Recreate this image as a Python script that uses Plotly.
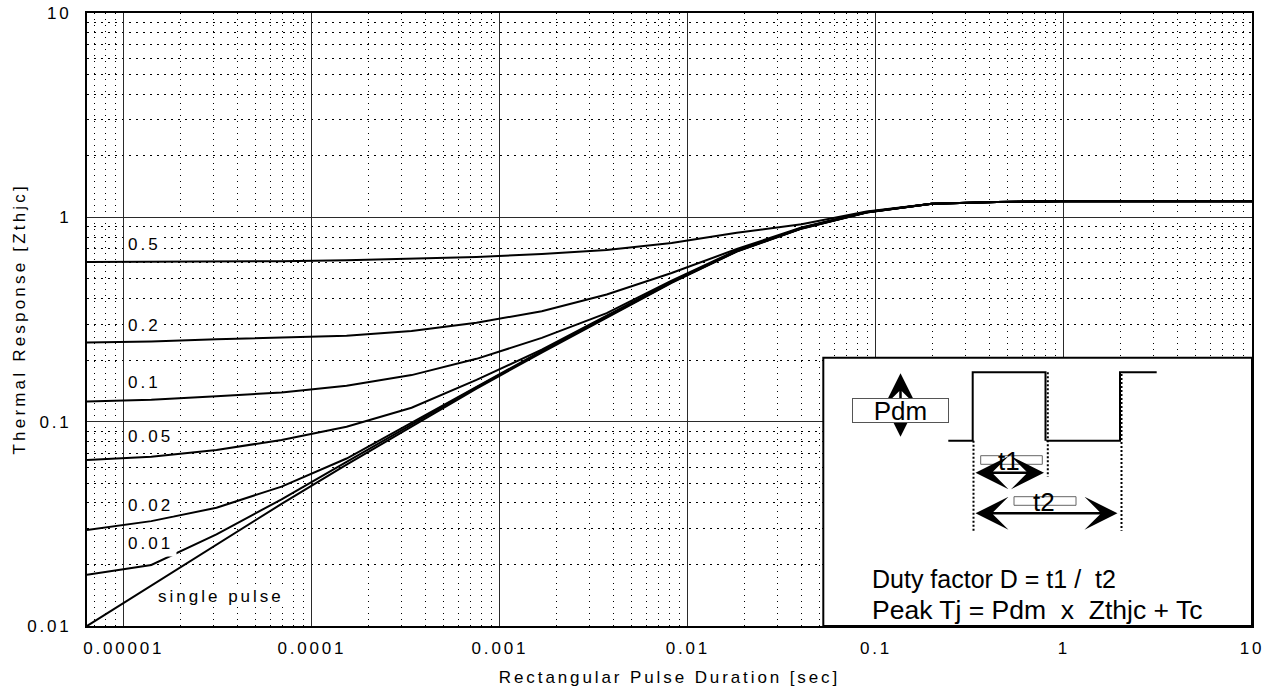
import math
import plotly.graph_objects as go

# ---------------- data ----------------
pulse_t = [6.37e-6, 1.40e-5, 3.11e-5, 6.90e-5, 1.53e-4, 3.39e-4, 7.51e-4,
           1.67e-3, 3.70e-3, 8.19e-3, 1.82e-2, 4.02e-2, 8.92e-2, 0.198,
           0.439, 0.97, 2.15, 4.77, 10.0]

z_single = [0.0100, 0.0158, 0.0250, 0.0396, 0.0616, 0.0946, 0.145, 0.218, 0.324,
            0.478, 0.680, 0.880, 1.055, 1.165, 1.19, 1.20, 1.20, 1.20, 1.20]
z_d001 = [0.0178, 0.0199, 0.0281, 0.0417, 0.0635, 0.0965, 0.147, 0.220, 0.326,
          0.480, 0.682, 0.882, 1.057, 1.165, 1.19, 1.20, 1.20, 1.20, 1.20]
z_d002 = [0.0295, 0.0326, 0.0379, 0.0481, 0.0660, 0.0990, 0.149, 0.222, 0.328,
          0.482, 0.684, 0.884, 1.058, 1.165, 1.19, 1.20, 1.20, 1.20, 1.20]
z_d005 = [0.0649, 0.0674, 0.0727, 0.0814, 0.0945, 0.117, 0.160, 0.225, 0.330,
          0.485, 0.686, 0.886, 1.060, 1.165, 1.19, 1.20, 1.20, 1.20, 1.20]
z_d01 = [0.1254, 0.128, 0.133, 0.139, 0.150, 0.169, 0.203, 0.257, 0.340,
         0.490, 0.690, 0.888, 1.060, 1.165, 1.19, 1.20, 1.20, 1.20, 1.20]
z_d02 = [0.244, 0.2465, 0.253, 0.257, 0.263, 0.278, 0.305, 0.347, 0.419,
         0.534, 0.700, 0.892, 1.062, 1.165, 1.19, 1.20, 1.20, 1.20, 1.20]
z_d05 = [0.605, 0.605, 0.607, 0.610, 0.617, 0.626, 0.640, 0.662, 0.692,
         0.748, 0.841, 0.925, 1.067, 1.165, 1.19, 1.20, 1.20, 1.20, 1.20]

series = [z_single, z_d001, z_d002, z_d005, z_d01, z_d02, z_d05]
curve_labels = ["single pulse", "0.01", "0.02", "0.05", "0.1", "0.2", "0.5"]

x_tick_vals = [1e-5, 1e-4, 1e-3, 1e-2, 1e-1, 1, 10]
x_tick_text = ["0.00001", "0.0001", "0.001", "0.01", "0.1", "1", "10"]
y_tick_vals = [0.01, 0.1, 1, 10]
y_tick_text = ["0.01", "0.1", "1", "10"]

x_title = "Rectangular Pulse Duration [sec]"
y_title = "Thermal Response [Zthjc]"

# ---------------- styling helpers ----------------
FONT = "Liberation Sans, Arial, Helvetica, sans-serif"


def spaced(t, ls=2.8):
    return '<span style="letter-spacing:%spx">%s</span>' % (ls, t)


W, H = 1274, 695
ML, MR, MT, MB = 87, 22, 13, 69
PW, PH = W - ML - MR, H - MT - MB


def px(xp):
    return (xp - ML) / PW


def py(yp):
    return (H - MB - yp) / PH


fig = go.Figure()
for ys in series:
    fig.add_trace(go.Scatter(x=pulse_t, y=ys, mode="lines",
                             line=dict(color="black", width=2),
                             showlegend=False, hoverinfo="skip"))

minor_x = [m * 10 ** e for e in range(-6, 1) for m in range(2, 10)]
minor_y = [m * 10 ** e for e in range(-2, 1) for m in range(2, 10)]

fig.update_xaxes(
    type="log", range=[math.log10(6.37e-6), 1],
    tickmode="array", tickvals=x_tick_vals,
    ticktext=[spaced(t) for t in x_tick_text],
    tickfont=dict(family=FONT, size=17, color="black"),
    ticks="", ticklabelstandoff=6,
    showline=True, mirror=True, linecolor="black", linewidth=2,
    showgrid=True, gridcolor="#2a2a2a", gridwidth=1,
    minor=dict(tickmode="array", tickvals=minor_x, showgrid=True,
               gridcolor="#000000", gridwidth=1, griddash="1px,5px", ticks=""),
    title=dict(text=spaced(x_title, 2.9), font=dict(family=FONT, size=17, color="black"),
               standoff=14),
    automargin=False, zeroline=False,
)
fig.update_yaxes(
    type="log", range=[-2, 1],
    tickmode="array", tickvals=y_tick_vals,
    ticktext=[spaced(t) for t in y_tick_text],
    tickfont=dict(family=FONT, size=17, color="black"),
    ticks="", ticklabelstandoff=10,
    showline=True, mirror=True, linecolor="black", linewidth=2,
    showgrid=True, gridcolor="#2a2a2a", gridwidth=1,
    minor=dict(tickmode="array", tickvals=minor_y, showgrid=True,
               gridcolor="#000000", gridwidth=1, griddash="2px,5px", ticks=""),
    automargin=False, zeroline=False,
)

annotations = []
# y-axis title
annotations.append(dict(x=px(18.5), y=py(319.0), xref="paper", yref="paper",
                        xanchor="center", yanchor="middle", textangle=-90,
                        text=spaced(y_title, 3.2), showarrow=False,
                        font=dict(family=FONT, size=17, color="black")))

# curve labels (pixel positions of their left/centre in the reference)
label_pos = {
    "0.5": (126.5, 244.7), "0.2": (126.5, 325.3), "0.1": (126.5, 383.0),
    "0.05": (126.5, 436.7), "0.02": (126.5, 505.0), "0.01": (126.5, 543.0),
    "single pulse": (156.5, 596.0),
}
label_pad = {"0.01": 3}
for lab in curve_labels:
    lx, ly = label_pos[lab]
    pad = label_pad.get(lab, 0)
    annotations.append(dict(
        x=px(lx - pad), y=py(ly), xref="paper", yref="paper", xanchor="left", yanchor="middle",
        text=spaced(lab, 3.0), showarrow=False, bgcolor="white", borderpad=pad,
        font=dict(family=FONT, size=17, color="black")))

# inset: arrows
AFONT = dict(family=FONT, size=26, color="black")
ARW = dict(xref="paper", yref="paper", text="", showarrow=True, arrowside="end+start",
           arrowhead=3, startarrowhead=3, arrowsize=2.2, startarrowsize=2.2,
           arrowwidth=2.5, arrowcolor="black", standoff=0, startstandoff=0)
annotations.append(dict(x=px(1044), y=py(472.7), ax=-70, ay=0, **ARW))
annotations.append(dict(x=px(1117.5), y=py(513.3), ax=-143.5, ay=0, **ARW))
annotations.append(dict(x=px(900.5), y=py(373.3), ax=0, ay=65, **ARW))
# Pdm boxed label
annotations.append(dict(x=px(900.5), y=py(410.0), xref="paper", yref="paper",
                        xanchor="center", yanchor="middle", text="Pdm", showarrow=False,
                        width=95, height=23, borderpad=0, borderwidth=1,
                        bordercolor="#555555", bgcolor="white", font=AFONT))
annotations.append(dict(x=px(1009), y=py(461.0), xref="paper", yref="paper",
                        xanchor="center", yanchor="middle", text="t1", showarrow=False,
                        font=AFONT))
annotations.append(dict(x=px(1044), y=py(502.0), xref="paper", yref="paper",
                        xanchor="center", yanchor="middle", text="t2", showarrow=False,
                        font=AFONT))
annotations.append(dict(x=px(870.0), y=py(579.0), xref="paper", yref="paper",
                        xanchor="left", yanchor="middle",
                        text="Duty factor D = t1 /\u00a0 t2", showarrow=False,
                        font=dict(family=FONT, size=25, color="black")))
annotations.append(dict(x=px(870.0), y=py(609.5), xref="paper", yref="paper",
                        xanchor="left", yanchor="middle",
                        text="Peak Tj = Pdm\u00a0 x\u00a0 Zthjc + Tc", showarrow=False,
                        font=dict(family=FONT, size=26.5, color="black")))

shapes = []
# inset box
shapes.append(dict(type="rect", xref="paper", yref="paper", x0=px(823.3), x1=1.0,
                   y0=0.0, y1=py(357.7), fillcolor="white",
                   line=dict(color="black", width=2), layer="above"))
# waveform
wave = "M {a},{lo} L {b},{lo} L {b},{hi} L {c},{hi} L {c},{lo} M {d},{lo} L {e},{lo} L {e},{hi} L {f},{hi}".format(
    a=px(948.3), b=px(972.7), c=px(1045.5), d=px(1046.5), e=px(1120.0), f=px(1156.7),
    lo=py(440.7), hi=py(372.3))
shapes.append(dict(type="path", xref="paper", yref="paper", path=wave,
                   line=dict(color="black", width=2), layer="above"))
# dotted construction lines
for xx, ya, yb in [(973.5, 440.7, 530.7), (1047.8, 372.3, 476.7), (1121.5, 374.0, 530.7)]:
    shapes.append(dict(type="line", xref="paper", yref="paper", x0=px(xx), x1=px(xx),
                       y0=py(ya), y1=py(yb),
                       line=dict(color="black", width=2, dash="2px,2px"), layer="above"))
# t1 / t2 small boxes
for x0, x1, y0, y1 in [(980.7, 1042.3, 455.7, 464.3), (1014.0, 1076.0, 496.7, 505.3)]:
    shapes.append(dict(type="rect", xref="paper", yref="paper", x0=px(x0), x1=px(x1),
                       y0=py(y1), y1=py(y0), fillcolor="white",
                       line=dict(color="#666666", width=1), layer="above"))

fig.update_layout(
    width=W, height=H,
    margin=dict(l=ML, r=MR, t=MT, b=MB, pad=0),
    paper_bgcolor="white", plot_bgcolor="white",
    font=dict(family=FONT, size=17, color="black"),
    annotations=annotations, shapes=shapes, showlegend=False,
)

fig.write_html("out.html", include_plotlyjs=True, config={"displayModeBar": False},
               post_script="document.body.style.margin='0px';document.body.style.overflow='hidden';")
